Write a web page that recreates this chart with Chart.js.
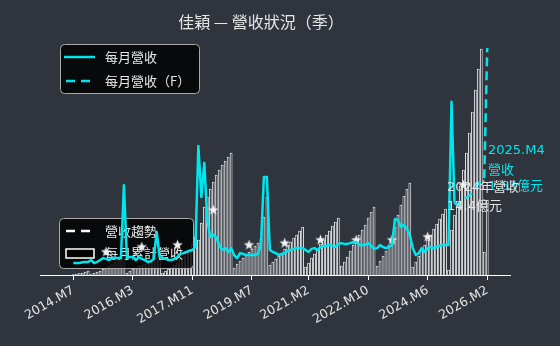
<!DOCTYPE html>
<html><head><meta charset="utf-8">
<script src="https://cdn.jsdelivr.net/npm/chart.js@4.4.0/dist/chart.umd.min.js"></script>
<style>html,body{margin:0;padding:0;background:#2f343d;}canvas{display:block;}</style>
</head><body>
<canvas id="c" width="560" height="346"></canvas>
<script>
const BG = '#2f343d';
const CYAN = '#00e6ef';
const LATIN = '"DejaVu Sans", "Noto Sans CJK TC", sans-serif';
const CJK = '"Noto Sans CJK TC", "DejaVu Sans", sans-serif';

// month categories 2014.M7 .. 2026.M2
const months = [];
for (let i = 0; i < 140; i++) { const t = 6 + i; months.push((2014 + Math.floor(t / 12)) + '.M' + (t % 12 + 1)); }

const tickLabels = ['2014.M7','2016.M3','2017.M11','2019.M7','2021.M2','2022.M10','2024.M6','2026.M2'];

// monthly revenue (億元), actual
const rev2014 = [0.06,0.06,0.06,0.08,0.09,0.09];
const rev2015 = [0.14,0.06,0.09,0.14,0.19,0.17,0.14,0.19,0.19,0.19,0.19,2.09];
const rev2016 = [0.19,0.22,0.22,0.14,0.22,0.17,0.14,0.09,0.11,0.17,0.87,0.22];
const rev2017 = [0.19,0.17,0.14,0.14,0.17,0.22,0.30,0.32,0.35,0.38,0.40,0.48];
const rev2018 = [3.11,1.78,2.67,1.18,0.74,0.79,0.74,0.53,0.40,0.45,0.35,0.45];
const rev2019 = [0.27,0.19,0.32,0.30,0.27,0.27,0.27,0.27,0.30,0.53,2.30,2.30];
const rev2020 = [0.40,0.35,0.32,0.27,0.30,0.32,0.38,0.40,0.43,0.45,0.45,0.45];
const rev2021 = [0.40,0.35,0.43,0.45,0.40,0.48,0.51,0.51,0.53,0.51,0.48,0.56];
const rev2022 = [0.58,0.56,0.56,0.58,0.61,0.61,0.53,0.53,0.53,0.58,0.51,0.43];
const rev2023 = [0.45,0.53,0.48,0.45,0.48,0.53,1.21,1.18,1.00,1.05,0.95,0.79];
const rev2024 = [0.45,0.27,0.32,0.45,0.35,0.45,0.48,0.45,0.48,0.51,0.53,0.53];
const rev2025 = [0.53,4.26,1.63];
// forecast monthly revenue, from the last actual month to 2026.M2
const forecastStart = '2025.M3';
const revForecast = [1.63,1.57,1.68,1.73,1.76,1.81,1.91,2.02,2.12,2.22,2.30,5.66];

// cumulative revenue within each year (億元)
const cum2014 = [0.05,0.1,0.15,0.2,0.3,0.4];
const cum2015 = [0.1,0.2,0.3,0.4,0.6,0.7,0.9,1.1,1.3,1.5,1.7,3.8];
const cum2016 = [0.2,0.4,0.6,0.7,0.9,1.0,1.1,1.2,1.3,1.5,2.4,2.6];
const cum2017 = [0.2,0.4,0.6,0.8,1.0,1.2,1.5,1.8,2.2,2.6,3.1,3.8];
const cum2018 = [3.5,5.2,6.8,7.8,8.6,9.3,10.0,10.5,11.0,11.4,11.8,12.2];
const cum2019 = [0.7,1.1,1.4,1.7,2.0,2.3,2.6,2.9,3.2,3.6,5.8,7.8];
const cum2020 = [1.0,1.3,1.6,1.9,2.2,2.6,3.0,3.3,3.7,4.0,4.4,4.8];
const cum2021 = [0.8,1.2,1.7,2.1,2.6,3.1,3.5,4.0,4.4,4.9,5.3,5.7];
const cum2022 = [0.9,1.3,1.8,2.4,3.0,3.5,4.0,4.5,5.0,5.7,6.3,6.8];
const cum2023 = [0.9,1.4,1.9,2.4,3.0,3.6,4.8,6.0,7.0,7.9,8.6,9.2];
const cum2024 = [0.8,1.3,1.9,2.5,3.0,3.5,4.0,4.6,5.1,5.6,6.1,6.6];
const cum2025 = [0.5,4.5,6.0,7.4,8.9,10.5,12.2,14.2,16.3,18.5,20.6,22.6];
const cum2026 = [2.3,7.5];

// yearly average monthly revenue (stars), placed at mid-year
const avgMonths = ['2015.M6','2016.M6','2017.M6','2018.M6','2019.M6','2020.M6','2021.M6','2022.M6','2023.M6','2024.M6','2025.M6'];
const avgValues = [0.35,0.48,0.53,1.44,0.53,0.58,0.66,0.66,0.66,0.74,2.09];

const revActual = [].concat(rev2014,rev2015,rev2016,rev2017,rev2018,rev2019,rev2020,rev2021,rev2022,rev2023,rev2024,rev2025);
const cumAll = [].concat(cum2014,cum2015,cum2016,cum2017,cum2018,cum2019,cum2020,cum2021,cum2022,cum2023,cum2024,cum2025,cum2026);
const fcIdx = months.indexOf(forecastStart);

const lineData = revActual.map((v, i) => ({x: i, y: v}));
const fcData = revForecast.map((v, i) => ({x: fcIdx + i, y: v}));
const barData = cumAll.map((v, i) => ({x: i, y: v}));
const starData = avgMonths.map((m, i) => ({x: months.indexOf(m), y: avgValues[i]}));
const tickIdx = tickLabels.map(l => months.indexOf(l));

function starImage(r) {
  const s = Math.ceil(r * 2) + 2;
  const c = document.createElement('canvas'); c.width = s; c.height = s;
  const g = c.getContext('2d');
  g.fillStyle = '#f2f2f2';
  g.beginPath();
  for (let i = 0; i < 10; i++) {
    const a = -Math.PI / 2 + i * Math.PI / 5;
    const rr = i % 2 ? r * 0.42 : r;
    g.lineTo(s / 2 + rr * Math.cos(a), s / 2 + rr * Math.sin(a));
  }
  g.closePath(); g.fill();
  return c;
}

function rbox(ctx, x, y, w, h, r) {
  ctx.beginPath();
  ctx.moveTo(x + r, y); ctx.lineTo(x + w - r, y); ctx.quadraticCurveTo(x + w, y, x + w, y + r);
  ctx.lineTo(x + w, y + h - r); ctx.quadraticCurveTo(x + w, y + h, x + w - r, y + h);
  ctx.lineTo(x + r, y + h); ctx.quadraticCurveTo(x, y + h, x, y + h - r);
  ctx.lineTo(x, y + r); ctx.quadraticCurveTo(x, y, x + r, y); ctx.closePath();
  ctx.fillStyle = 'rgba(0,0,0,0.82)'; ctx.fill();
  ctx.strokeStyle = '#a8a8a8'; ctx.lineWidth = 1; ctx.stroke();
}
function txt(ctx, s, x, y, color, font, align) {
  ctx.fillStyle = color; ctx.font = font; ctx.textAlign = align || 'left'; ctx.textBaseline = 'middle';
  ctx.fillText(s, x, y);
}
function seg(ctx, x1, x2, y, color, w, dash) {
  ctx.beginPath(); ctx.setLineDash(dash || []); ctx.strokeStyle = color; ctx.lineWidth = w;
  ctx.moveTo(x1, y); ctx.lineTo(x2, y); ctx.stroke(); ctx.setLineDash([]);
}

const decor = {
  id: 'decor',
  beforeDraw(chart) {
    const ctx = chart.ctx; ctx.save(); ctx.fillStyle = BG; ctx.fillRect(0, 0, chart.width, chart.height); ctx.restore();
  },
  afterDatasetDraw(chart, args) {
    if (args.meta.type !== 'bar') return;
    const ctx = chart.ctx; ctx.save();
    rbox(ctx, 59.5, 218.5, 134, 50, 4);
    seg(ctx, 66, 91, 231, '#ffffff', 2.5, [9, 6]);
    txt(ctx, '營收趨勢', 105, 231, '#e8e8e8', '13px ' + CJK);
    ctx.fillStyle = '#000'; ctx.fillRect(66, 249, 28, 9);
    ctx.strokeStyle = '#fff'; ctx.lineWidth = 1.5; ctx.strokeRect(66, 249, 28, 9);
    txt(ctx, '每月累計營收', 105, 253, '#e8e8e8', '13px ' + CJK);
    ctx.restore();
  },
  afterDraw(chart) {
    const ctx = chart.ctx; ctx.save();
    txt(ctx, '佳穎 — 營收狀況（季）', 261, 22, '#e6e6e6', '16px ' + CJK, 'center');
    rbox(ctx, 60.5, 44.5, 139, 49, 4);
    seg(ctx, 64, 95, 57, CYAN, 2.5);
    txt(ctx, '每月營收', 105, 57, '#e8e8e8', '13px ' + CJK);
    seg(ctx, 66, 93, 81, CYAN, 2.5, [9, 6]);
    txt(ctx, '每月營收（F）', 105, 81, '#e8e8e8', '13px ' + CJK);
    txt(ctx, '2025.M4', 488, 151, CYAN, '13px ' + LATIN);
    txt(ctx, '營收', 488, 169, CYAN, '13px ' + CJK);
    txt(ctx, '1.63億元', 488, 187, CYAN, '13px ' + LATIN);
    txt(ctx, '2024年營收', 447, 188, '#e2e2e2', '13px ' + LATIN);
    txt(ctx, '14.4億元', 447, 207, '#e2e2e2', '13px ' + LATIN);
    ctx.restore();
  }
};

new Chart(document.getElementById('c'), {
  data: {
    datasets: [
      { type: 'line', label: '每月營收', data: lineData, yAxisID: 'y2', borderColor: CYAN, borderWidth: 2.5,
        pointRadius: 0, tension: 0, borderJoinStyle: 'round', order: 0 },
      { type: 'line', label: '每月營收（F）', data: fcData, yAxisID: 'y2', borderColor: CYAN, borderWidth: 2.5,
        borderDash: [9, 5], pointRadius: 0, tension: 0, order: 0 },
      { type: 'scatter', label: 'avg', data: starData, yAxisID: 'y2', pointStyle: starImage(5.5),
        pointRadius: 6, order: 1 },
      { type: 'bar', label: '每月累計營收', data: barData, yAxisID: 'y', backgroundColor: BG,
        borderColor: '#ffffff', borderWidth: 0.8, barThickness: 2.1, order: 5 }
    ]
  },
  options: {
    responsive: false, animation: false, devicePixelRatio: 1,
    layout: { padding: { left: 40, right: 50, top: 35, bottom: 0 } },
    plugins: { legend: { display: false }, tooltip: { enabled: false }, title: { display: false } },
    scales: {
      x: {
        type: 'linear', min: -11.18, max: 146.64, offset: false,
        afterBuildTicks: s => { s.ticks = tickIdx.map(v => ({ value: v })); },
        afterFit: s => { s.height = 71; },
        ticks: { autoSkip: false, minRotation: 30, maxRotation: 30, color: '#e6e6e6', padding: 3,
          font: { family: LATIN, size: 12.5 }, callback: v => months[v] },
        grid: { display: true, drawOnChartArea: false, drawTicks: true, tickLength: 5, color: '#ffffff', offset: false },
        border: { display: true, color: '#ffffff', width: 1 }
      },
      y: { display: false, min: 0, max: 24 },
      y2: { display: false, min: -0.25, max: 6, position: 'right' }
    }
  },
  plugins: [decor]
});
</script>
</body></html>
